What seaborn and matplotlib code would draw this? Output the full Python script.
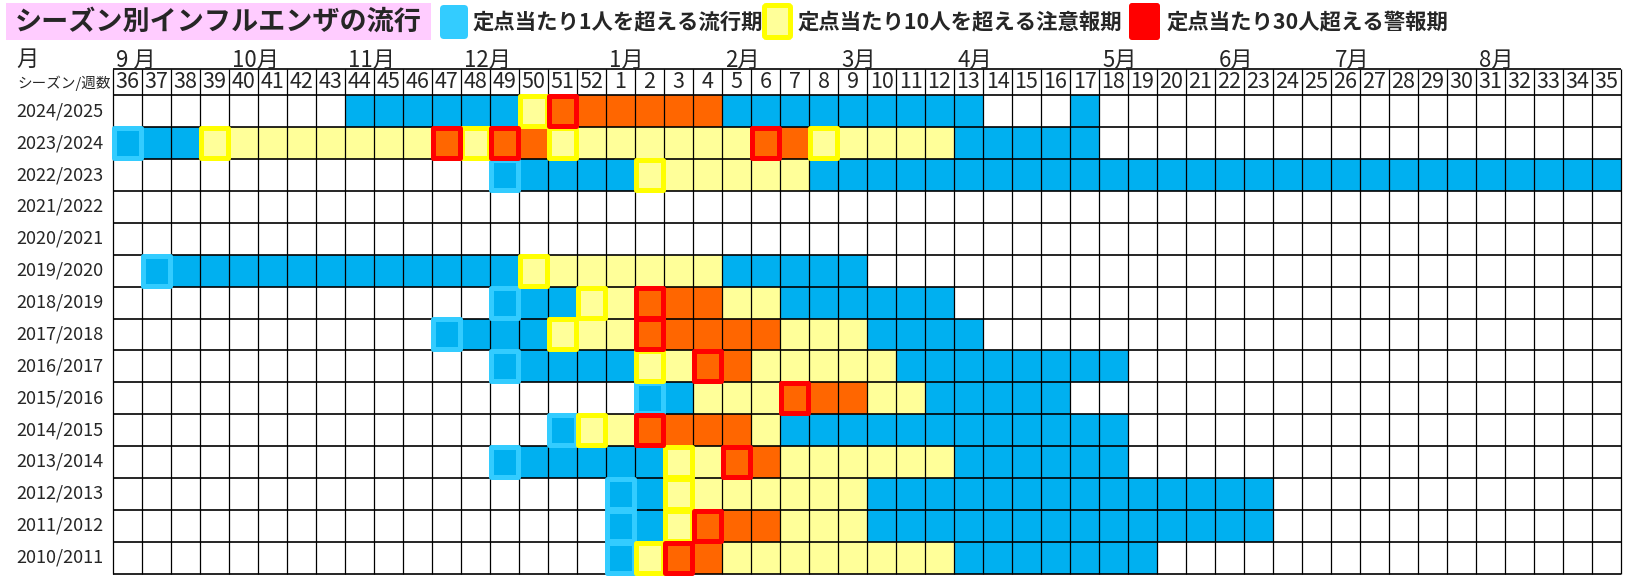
import numpy as np
import pandas as pd
import matplotlib
matplotlib.use('Agg')
import matplotlib.pyplot as plt
import seaborn as sns
from matplotlib.colors import ListedColormap
from matplotlib.patches import Rectangle, FancyBboxPatch

# weeks of a season: 36..52, then 1..35
weeks = list(range(36, 53)) + list(range(1, 36))
seasons = ['2024/2025', '2023/2024', '2022/2023', '2021/2022', '2020/2021',
           '2019/2020', '2018/2019', '2017/2018', '2016/2017', '2015/2016',
           '2014/2015', '2013/2014', '2012/2013', '2011/2012', '2010/2011']

# level per week: 0 = none, 1 = >1/定点, 2 = >10/定点, 3 = >30/定点
lv_2425 = '00000000' '111111' '2' '333333' '111111111' '000' '1' '000000000000000000'
lv_2324 = '111' '22222222' '3' '2' '33' '2222222' '33' '22222' '11111' '000000000000000000'
lv_2223 = '0000000000000' '1' '1111' '2' '22222' '1111111111111111111111111111'
lv_2122 = '0' * 52
lv_2021 = '0' * 52
lv_1920 = '0' '1' '111111111111' '2' '222222' '11111' '00000000000000000000000000'
lv_1819 = '0000000000000' '1' '11' '2' '2' '3' '33' '22' '111111' '00000000000000000000000'
lv_1718 = '00000000000' '1' '111' '2' '22' '3' '3333' '222' '1111' '0000000000000000000000'
lv_1617 = '0000000000000' '1' '1111' '2' '2' '3' '3' '22222' '11111111' '00000000000000000'
lv_1516 = '000000000000000000' '1' '1' '222' '3' '33' '22' '11111' '0000000000000000000'
lv_1415 = '000000000000000' '1' '2' '2' '3' '333' '2' '111111111111' '00000000000000000'
lv_1314 = '0000000000000' '1' '11111' '2' '2' '3' '3' '222222' '111111' '00000000000000000'
lv_1213 = '00000000000000000' '1' '1' '2' '222222' '11111111111111' '000000000000'
lv_1112 = '00000000000000000' '1' '1' '2' '3' '33' '222' '11111111111111' '000000000000'
lv_1011 = '00000000000000000' '1' '2' '3' '3' '22222222' '1111111' '0000000000000000'

levels = [lv_2425, lv_2324, lv_2223, lv_2122, lv_2021, lv_1920, lv_1819, lv_1718,
          lv_1617, lv_1516, lv_1415, lv_1314, lv_1213, lv_1112, lv_1011]

# highlighted weeks (season, week)
blue_marks = [('2023/2024', 36), ('2022/2023', 49), ('2019/2020', 37), ('2018/2019', 49),
              ('2017/2018', 47), ('2016/2017', 49), ('2015/2016', 2), ('2014/2015', 51),
              ('2013/2014', 49), ('2012/2013', 1), ('2011/2012', 1), ('2010/2011', 1)]
yellow_marks = [('2024/2025', 50), ('2023/2024', 39), ('2023/2024', 48), ('2023/2024', 51),
                ('2023/2024', 8), ('2022/2023', 2), ('2019/2020', 50), ('2018/2019', 52),
                ('2017/2018', 51), ('2016/2017', 2), ('2014/2015', 52), ('2013/2014', 3),
                ('2012/2013', 3), ('2011/2012', 3), ('2010/2011', 2)]
red_marks = [('2024/2025', 51), ('2023/2024', 47), ('2023/2024', 49), ('2023/2024', 6),
             ('2018/2019', 2), ('2017/2018', 2), ('2016/2017', 4), ('2015/2016', 7),
             ('2014/2015', 2), ('2013/2014', 5), ('2011/2012', 4), ('2010/2011', 3)]

month_labels = ['9 月', '10月', '11月', '12月', '1月', '2月', '3月', '4月', '5月', '6月', '7月', '8月']
month_weeks = [36, 40, 44, 48, 1, 5, 9, 13, 18, 22, 26, 31]

legend_texts = ['定点当たり1人を超える流行期', '定点当たり10人を超える注意報期', '定点当たり30人超える警報期']
title = 'シーズン別インフルエンザの流行'

cell_colors = ['#FFFFFF', '#00B0F0', '#FFFF99', '#FF6600']

sns.set_style('white')
plt.rcParams['font.family'] = ['Noto Sans CJK JP', 'DejaVu Sans']

df = pd.DataFrame([[int(c) for c in s] for s in levels], index=seasons, columns=weeks)

W, H = 1642, 581
fig = plt.figure(figsize=(W / 100, H / 100), dpi=100)
ax = fig.add_axes([113 / W, 1 - 573.5 / H, 1508 / W, (573.5 - 69) / H])
sns.heatmap(df, cmap=ListedColormap(cell_colors), vmin=-0.5, vmax=3.5, cbar=False,
            linewidths=0, xticklabels=False, ax=ax)

hdr = 0.83
nrow, ncol = df.shape
ax.set_xlim(0, ncol)
ax.set_ylim(nrow, -hdr)
ax.hlines(np.arange(nrow + 1), 0, ncol, color='black', lw=1.2, clip_on=False, zorder=3)
ax.hlines(-hdr, 0, ncol, color='black', lw=1.2, clip_on=False, zorder=3)
ax.vlines(np.arange(ncol + 1), -hdr, nrow, color='black', lw=0.9, clip_on=False, zorder=3)

ax.set_yticks(np.arange(nrow) + 0.5)
ax.set_yticklabels(seasons, rotation=0, fontsize=13)
ax.tick_params(axis='y', length=0, pad=7)
ax.set_xlabel('')
ax.set_ylabel('')

for i, w in enumerate(weeks):
    ax.text(i + 0.5, -hdr / 2, str(w), ha='center', va='center', fontsize=15.5)

for m, w in zip(month_labels, month_weeks):
    ax.text(weeks.index(w) + 0.12, -1.1, m, ha='left', va='center', fontsize=16, clip_on=False)

def mark(marks, color):
    for s, w in marks:
        r = seasons.index(s)
        c = weeks.index(w)
        ax.add_patch(Rectangle((c + 0.03, r + 0.03), 0.94, 0.94, fill=False, edgecolor=color,
                               lw=3.6, joinstyle='round', zorder=5, clip_on=False))

mark(blue_marks, '#33CCFF')
mark(yellow_marks, '#FFFF00')
mark(red_marks, '#FF0000')

# header texts
fig.text(16 / W, 1 - 59 / H, '月', fontsize=16, va='center', ha='left')
fig.text(17 / W, 1 - 83 / H, 'シーズン/週数', fontsize=10.5, va='center', ha='left')

# title box
fig.patches.append(Rectangle((6 / W, 1 - 40 / H), 425 / W, 37 / H, transform=fig.transFigure,
                             facecolor='#FFCCFF', edgecolor='none', zorder=0))
fig.text(15 / W, 1 - 22 / H, title, fontsize=19.5, fontweight='bold', va='center', ha='left')

# legend
fig.patches.append(FancyBboxPatch((440, H - 39), 28, 34, boxstyle='round,pad=0,rounding_size=4',
                                  transform=None, facecolor='#33CCFF', edgecolor='none'))
fig.patches.append(FancyBboxPatch((764.5, H - 37.5), 26, 32, boxstyle='round,pad=0,rounding_size=2',
                                  transform=None, facecolor='#FFFF99', edgecolor='#FFFF00', lw=3.6))
fig.patches.append(FancyBboxPatch((1129, H - 40), 31, 37, boxstyle='round,pad=0,rounding_size=3',
                                  transform=None, facecolor='#FF0000', edgecolor='none'))
for x, t in zip([473, 798, 1167], legend_texts):
    fig.text(x / W, 1 - 22 / H, t, fontsize=15.4, fontweight='bold', va='center', ha='left')

plt.savefig('out.png', dpi=100)
